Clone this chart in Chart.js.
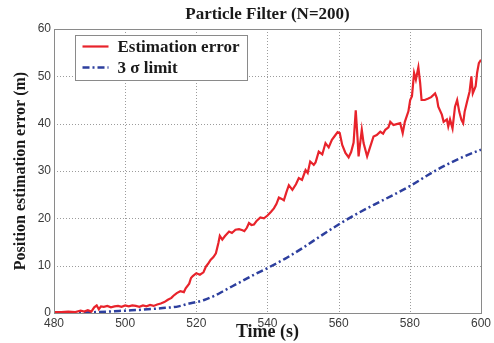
<!DOCTYPE html>
<html>
<head>
<meta charset="utf-8">
<script src="https://cdn.jsdelivr.net/npm/chart.js@4.4.1/dist/chart.umd.min.js"></script>
<style>
  html, body { margin: 0; padding: 0; background: #fff; }
  #wrap { width: 494px; height: 343px; position: relative; }
</style>
</head>
<body>
<div id="wrap"><canvas id="c" width="494" height="343"></canvas></div>
<script>
// ---- Data ----
const errTime = [480,482,484,486,487.5,488.5,489.5,490.5,491.3,492,492.6,493.2,494,495,496,497,498,499,500,501,502,503,504,505,506,507,508,509,510,511,512,513,513.5,514.5,515.5,516.5,517,518,518.5,519,520,521,522,522.7,523.3,524,524.8,525.5,526.2,526.6,527.3,528,529.2,530,531,532,533,533.5,534.2,534.8,535.5,536.2,537,538,539,540,541,541.8,542.5,543.2,544,544.6,545.3,546,547,548,548.8,549.7,550.7,551.3,552,553,553.5,554.4,555.4,556.3,557.2,558.1,559,559.7,560.3,561,561.9,562.8,563.5,564.2,564.8,565.3,565.6,566.5,567,568,568.9,569.8,570.7,571.7,572.5,573.1,574,574.5,575.4,576.3,577.3,578,578.6,579.6,580.1,580.6,581.2,581.7,582.4,582.9,583.3,584.2,585.2,586,587.1,587.6,588,589,589.5,590.4,590.8,591.3,592,592.7,593.3,593.9,594.5,595,595.4,596.1,596.8,597.3,597.7,598.5,598.9,599.4,600];
const errValue = [0.2,0.2,0.3,0.2,0.5,0.3,0.6,0.3,1.2,1.6,0.8,1.4,1.3,1.5,1.2,1.4,1.5,1.3,1.6,1.4,1.6,1.5,1.3,1.6,1.4,1.7,1.5,1.8,2.0,2.3,2.8,3.2,3.6,4.2,4.6,4.4,5.2,6.2,7.4,7.8,8.4,8.1,8.6,9.8,10.4,11.2,11.8,12.6,14.8,16.3,15.5,16.2,17.2,16.9,17.6,17.7,17.5,17.3,18.0,19.0,18.6,18.7,19.5,20.2,20.0,20.6,21.4,22.1,23.0,24.4,24.1,23.8,25.5,27.0,26.0,27.2,28.5,28.1,30.2,29.6,32.0,31.3,31.8,34.1,33.5,35.9,35.0,36.6,37.5,38.2,38.0,35.5,33.8,32.9,34.0,36.0,42.8,37.0,33.1,38.7,35.9,33.1,35.2,37.3,37.6,38.3,37.9,38.7,39.2,40.4,39.7,39.9,40.1,38.0,40.4,42.6,45.0,45.8,50.7,49.3,51.9,48.6,45.0,45.0,45.3,45.6,46.4,45.4,43.6,41.9,40.4,40.9,39.4,40.9,39.0,43.6,45.0,42.5,40.8,40.1,42.5,44.7,46.8,50.0,46.4,47.9,50.7,52.8,53.5];

const sigmaTime  = [480,485,490,495,500,505,510,515,518,520,522,525,528,530,533,536,540,545,550,555,560,565,570,575,580,585,590,595,600];
const sigmaValue = [0,0.05,0.15,0.3,0.5,0.7,1.0,1.4,2.0,2.3,2.7,3.6,4.8,5.6,6.8,8.0,9.5,11.5,13.8,16.3,18.7,20.9,22.9,24.8,26.8,29.1,31.2,33.0,34.5];

const xTicks = [480,500,520,540,560,580,600];
const yTicks = [0,10,20,30,40,50,60];

const seriesNames = ['Estimation error', '3 \u03c3 limit'];
const titleText = 'Particle Filter (N=200)';
const xTitle = 'Time (s)';
const yTitle = 'Position estimation error (m)';

const RED = '#e8232b';
const BLUE = '#2d3f9e';
const BLUE_DASH = [7, 3, 2, 3];
const SERIF = '"Liberation Serif", "DejaVu Serif", serif';
const SANS = '"Liberation Sans", Arial, sans-serif';

const toPts = (xs, ys) => xs.map((x, i) => ({ x, y: ys[i] }));

const framePlugin = {
  id: 'frame',
  beforeDatasetsDraw(chart) {
    const { ctx, chartArea: a, scales } = chart;
    ctx.save();
    ctx.strokeStyle = '#9c9c9c';
    ctx.lineWidth = 1;
    ctx.setLineDash([1, 2]);
    xTicks.forEach(v => {
      const x = Math.round(scales.x.getPixelForValue(v)) + 0.5;
      ctx.beginPath(); ctx.moveTo(x, a.top); ctx.lineTo(x, a.bottom); ctx.stroke();
    });
    yTicks.forEach(v => {
      const y = Math.round(scales.y.getPixelForValue(v)) + 0.5;
      ctx.beginPath(); ctx.moveTo(a.left, y); ctx.lineTo(a.right, y); ctx.stroke();
    });
    ctx.restore();
  },
  afterDatasetsDraw(chart) {
    const { ctx, chartArea: a } = chart;
    ctx.save();
    ctx.strokeStyle = '#8a8a8a';
    ctx.lineWidth = 1;
    ctx.setLineDash([]);
    ctx.strokeRect(Math.round(a.left) + 0.5, Math.round(a.top) + 0.5,
                   Math.round(a.right - a.left), Math.round(a.bottom - a.top));
    ctx.restore();
  },
  afterDraw(chart) {
    const { ctx, chartArea: a } = chart;
    ctx.save();
    // title centred over the plot area
    ctx.fillStyle = '#1a1a1a';
    ctx.font = 'bold 17px ' + SERIF;
    ctx.textAlign = 'center';
    ctx.textBaseline = 'middle';
    ctx.fillText(titleText, (a.left + a.right) / 2, 15);

    // legend
    const bx = a.left + 21.5, by = a.top + 6.5, bw = 172, bh = 45;
    ctx.fillStyle = '#fff';
    ctx.fillRect(bx, by, bw, bh);
    ctx.strokeStyle = '#8a8a8a';
    ctx.lineWidth = 1;
    ctx.strokeRect(bx, by, bw, bh);
    const rows = [by + 11, by + 32];
    chart.data.datasets.forEach((d, i) => {
      ctx.beginPath();
      ctx.strokeStyle = d.borderColor;
      ctx.lineWidth = d.borderWidth;
      ctx.setLineDash(d.borderDash || []);
      ctx.moveTo(bx + 7, rows[i]);
      ctx.lineTo(bx + 33, rows[i]);
      ctx.stroke();
      ctx.setLineDash([]);
      ctx.fillStyle = '#1a1a1a';
      ctx.font = 'bold 17px ' + SERIF;
      ctx.textBaseline = 'middle';
      ctx.textAlign = 'left';
      ctx.fillText(d.label, bx + 42, rows[i] + 1);
    });
    ctx.restore();
  }
};

new Chart(document.getElementById('c'), {
  type: 'line',
  data: {
    datasets: [
      {
        label: seriesNames[0],
        data: toPts(errTime, errValue),
        borderColor: RED,
        borderWidth: 2.2,
        pointRadius: 0,
        tension: 0,
        fill: false
      },
      {
        label: seriesNames[1],
        data: toPts(sigmaTime, sigmaValue),
        borderColor: BLUE,
        borderWidth: 2.5,
        borderDash: BLUE_DASH,
        pointRadius: 0,
        cubicInterpolationMode: 'monotone',
        fill: false
      }
    ]
  },
  options: {
    responsive: false,
    animation: false,
    devicePixelRatio: 1,
    layout: { padding: { top: 29, right: 11, bottom: 0, left: 0 } },
    plugins: {
      legend: { display: false },
      tooltip: { enabled: false },
      title: { display: false }
    },
    scales: {
      x: {
        type: 'linear',
        min: 480, max: 600,
        afterBuildTicks: s => { s.ticks = xTicks.map(v => ({ value: v })); },
        afterFit: s => { s.height = 30; },
        grid: { display: false, drawTicks: false, tickLength: 0 },
        border: { display: false },
        ticks: {
          color: '#3a3a3a', padding: 3, maxRotation: 0, autoSkip: false,
          font: { family: SANS, size: 12 }
        },
        title: {
          display: true, text: xTitle, color: '#1a1a1a',
          font: { family: SERIF, size: 18, weight: 'bold' },
          padding: { top: 0, bottom: 0 }
        }
      },
      y: {
        type: 'linear',
        min: 0, max: 60,
        afterBuildTicks: s => { s.ticks = yTicks.map(v => ({ value: v })); },
        afterFit: s => { s.width = 54; },
        grid: { display: false, drawTicks: false, tickLength: 0 },
        border: { display: false },
        ticks: {
          color: '#3a3a3a', padding: 3, autoSkip: false,
          font: { family: SANS, size: 12 }
        },
        title: {
          display: true, text: yTitle, color: '#1a1a1a',
          font: { family: SERIF, size: 16, weight: 'bold' },
          padding: { top: 11.4, bottom: 0 }
        }
      }
    }
  },
  plugins: [framePlugin]
});
</script>
</body>
</html>
